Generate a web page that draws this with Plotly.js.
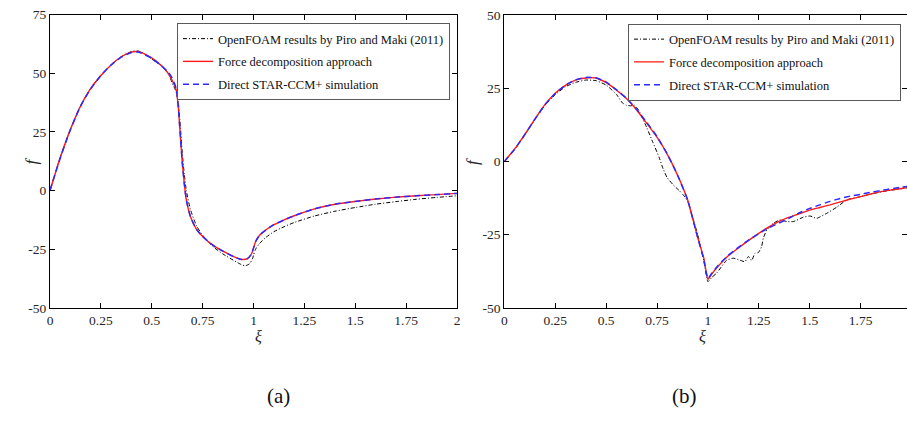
<!DOCTYPE html>
<html>
<head>
<meta charset="utf-8">
<script src="https://cdn.plot.ly/plotly-3.0.1.min.js"></script>
<style>
html,body{margin:0;padding:0;overflow:hidden;background:#fff;}
#chart{width:907px;height:427px;}
</style>
</head>
<body>
<div id="chart"></div>
<script>
// ---------- Panel (a) ----------
const aXiBlack = [0,0.05,0.1,0.15,0.2,0.25,0.3,0.35,0.4,0.43,0.45,0.5,0.55,0.58,0.6,0.62,0.63,0.64,0.65,0.66,0.67,0.69,0.72,0.75,0.8,0.85,0.9,0.94,0.96,0.98,0.995,1.0,1.01,1.03,1.06,1.1,1.15,1.2,1.3,1.4,1.5,1.6,1.7,1.8,1.9,2.0];
const aFBlack  = [0,14,26,36,43.5,49,53.5,57,59.2,59.5,59,56,53,50,46,42,38,28,16,7,0,-8,-15,-19,-23.8,-27,-29.6,-31.5,-32,-31.2,-29,-27.5,-25,-22.5,-20,-17.5,-15.4,-13.6,-10.8,-8.8,-7.2,-5.8,-4.7,-3.7,-2.9,-2.2];

const aXiRed = [0,0.05,0.1,0.15,0.2,0.25,0.3,0.35,0.4,0.43,0.45,0.5,0.55,0.58,0.6,0.62,0.63,0.64,0.65,0.66,0.67,0.69,0.72,0.75,0.8,0.85,0.9,0.94,0.97,0.99,1.0,1.01,1.03,1.06,1.1,1.15,1.2,1.3,1.4,1.5,1.6,1.7,1.8,1.9,2.0];
const aFRed  = [0,14,26,36,43.5,49,53.5,57,59,59.2,58.8,56.5,53,50,47,43,36,24,12,3,-4,-11,-16.5,-19.5,-23.2,-25.8,-28,-29.3,-29,-27,-24.5,-21.8,-19,-16.8,-14.5,-12.5,-10.7,-7.8,-5.8,-4.6,-3.6,-2.8,-2.2,-1.7,-1.2];

const aXiBlue = [0,0.05,0.1,0.15,0.2,0.25,0.3,0.35,0.4,0.43,0.45,0.5,0.55,0.58,0.6,0.62,0.63,0.64,0.65,0.66,0.67,0.69,0.72,0.75,0.8,0.85,0.9,0.94,0.97,0.99,1.0,1.01,1.03,1.06,1.1,1.15,1.2,1.3,1.4,1.5,1.6,1.7,1.8,1.9,2.0];
const aFBlue  = [0,13.8,25.8,36,43.3,49,53.5,56.8,58.8,59,58.5,56.3,53,50.5,48,43.5,36,24,12,3,-4,-11,-16.5,-19.5,-23.2,-25.8,-28,-29.3,-29,-27,-24.5,-21.8,-19,-16.8,-14.5,-12.5,-10.7,-7.8,-5.8,-4.6,-3.6,-2.8,-2.2,-1.7,-1.2];

// ---------- Panel (b) ----------
const bXiBlack = [0,0.05,0.1,0.15,0.2,0.25,0.3,0.35,0.4,0.45,0.5,0.55,0.58,0.6,0.62,0.64,0.66,0.7,0.73,0.76,0.78,0.8,0.83,0.86,0.88,0.9,0.95,0.98,1.0,1.02,1.043,1.092,1.125,1.158,1.182,1.199,1.215,1.231,1.248,1.264,1.272,1.289,1.321,1.354,1.387,1.42,1.469,1.502,1.534,1.583,1.633,1.682,1.75,1.8,1.85,1.9,1.95,2.0];
const bFBlack  = [0,4,9,14.3,19.2,22.8,25.5,27,27.8,27.6,26.1,23,20,19.2,19,19.2,17.5,11.5,6.5,1.5,-2.5,-5.5,-8,-10,-11.5,-13.5,-25,-34,-41,-39.5,-38.1,-33.7,-33,-33.7,-34.2,-32.4,-33.8,-31.3,-31.1,-29,-26.2,-23.4,-21.1,-19.9,-20.5,-20.5,-19,-18.6,-19.4,-17.7,-15.6,-13.1,-12,-11.1,-10.4,-9.8,-9.3,-8.8];

const bXiRed = [0,0.05,0.1,0.15,0.2,0.25,0.3,0.35,0.4,0.45,0.5,0.55,0.6,0.65,0.7,0.75,0.8,0.85,0.9,0.95,0.98,1.0,1.02,1.05,1.1,1.15,1.2,1.25,1.3,1.35,1.4,1.45,1.5,1.55,1.6,1.65,1.7,1.75,1.8,1.85,1.9,1.95,2.0];
const bFRed  = [0,4.2,9.2,14.5,19.5,23.3,26,27.8,28.5,28.5,27,24.4,21.5,17.6,13,8.3,2.5,-4.5,-13,-26,-33,-40.2,-38.3,-35.8,-32.2,-29.5,-26.9,-24.5,-22.3,-20.4,-19,-17.8,-16.6,-15.7,-14.8,-13.8,-12.8,-12,-11.1,-10.3,-9.7,-9.2,-8.7];

const bXiBlue = [0,0.05,0.1,0.15,0.2,0.25,0.3,0.35,0.4,0.45,0.5,0.55,0.6,0.65,0.7,0.75,0.8,0.85,0.9,0.95,0.98,1.0,1.02,1.05,1.1,1.15,1.2,1.25,1.3,1.35,1.4,1.45,1.5,1.55,1.6,1.65,1.7,1.75,1.8,1.85,1.9,1.95,2.0];
const bFBlue  = [0,4.1,9.1,14.4,19.4,23.2,26,27.9,28.7,28.6,27.1,24.5,21.6,17.8,13.3,8.5,2.6,-4.5,-13,-26,-33.5,-40,-38,-35.5,-32,-29.3,-26.8,-24.6,-22.6,-21,-19.3,-17.5,-16,-14.8,-13.6,-12.6,-11.8,-11.2,-10.5,-9.9,-9.3,-8.8,-8.3];

// ---------- Text ----------
const seriesNames = ["OpenFOAM results by Piro and Maki (2011)", "Force decomposition approach", "Direct STAR-CCM+ simulation"];
const xTickVals = [0,0.25,0.5,0.75,1,1.25,1.5,1.75,2];
const xTickText = ["0","0.25","0.5","0.75","1","1.25","1.5","1.75","2"];
const aYTickVals = [-50,-25,0,25,50,75];
const aYTickText = ["-50","-25","0","25","50","75"];
const bYTickVals = [-50,-25,0,25,50];
const bYTickText = ["-50","-25","0","25","50"];
const panelLabels = ["(a)","(b)"];

const W = 907, H = 427;
const px = v => v / W;
const py = v => (H - v) / H;
// panel (b) is cut by the right edge of the picture: its xi range ends where the picture ends
const bPxPerXi = 203.6, bLeft = 504.3;
const bXiMax = (W - bLeft) / bPxPerXi;

const serif = "Liberation Serif";
const blackLine = {color:'#000000', width:1, dash:'4px,2px,1px,2px'};
const redLine   = {color:'#ff1a1a', width:1.4};
const blueLine  = {color:'#2a2aff', width:1.5, dash:'6px,4px'};

const traces = [
  {x:aXiBlack, y:aFBlack, name:seriesNames[0], mode:'lines', line:Object.assign({shape:'spline',smoothing:0.6},blackLine), xaxis:'x', yaxis:'y', legend:'legend', legendgroup:'a1'},
  {x:aXiRed, y:aFRed, name:seriesNames[1], mode:'lines', line:Object.assign({shape:'spline',smoothing:0.6},redLine), xaxis:'x', yaxis:'y', legend:'legend', legendgroup:'a2'},
  {x:aXiBlue, y:aFBlue, name:seriesNames[2], mode:'lines', line:Object.assign({shape:'spline',smoothing:0.6},blueLine), xaxis:'x', yaxis:'y', legend:'legend', legendgroup:'a3'},
  {x:bXiBlack, y:bFBlack, name:seriesNames[0], mode:'lines', line:Object.assign({shape:'spline',smoothing:0.4},blackLine), xaxis:'x2', yaxis:'y2', legend:'legend2', legendgroup:'b1'},
  {x:bXiRed, y:bFRed, name:seriesNames[1], mode:'lines', line:Object.assign({shape:'spline',smoothing:0.4},redLine), xaxis:'x2', yaxis:'y2', legend:'legend2', legendgroup:'b2'},
  {x:bXiBlue, y:bFBlue, name:seriesNames[2], mode:'lines', line:Object.assign({shape:'spline',smoothing:0.4},blueLine), xaxis:'x2', yaxis:'y2', legend:'legend2', legendgroup:'b3'}
];

const tickFont = {family: serif, size: 13.5, color:'#262626'};
function xAxis(domain, anchor, range){
  return {domain:domain, anchor:anchor, range:range, tickvals:xTickVals, ticktext:xTickText,
    ticks:'inside', ticklen:5, tickwidth:1, tickcolor:'#000', showline:true, linecolor:'#000', linewidth:1,
    mirror:'ticks', showgrid:false, zeroline:false, tickfont:tickFont, fixedrange:true, automargin:false};
}
function yAxis(domain, anchor, range, tv, tt){
  return {domain:domain, anchor:anchor, range:range, tickvals:tv, ticktext:tt,
    ticks:'inside', ticklen:5, tickwidth:1, tickcolor:'#000', showline:true, linecolor:'#000', linewidth:1,
    mirror:'ticks', showgrid:false, zeroline:false, tickfont:tickFont, fixedrange:true, automargin:false};
}
function legendBox(left, top){
  return {x:px(left), y:py(top), xanchor:'left', yanchor:'top', bgcolor:'#ffffff', bordercolor:'#5a5a5a', borderwidth:1,
    font:{family:serif, size:12.5, color:'#111'}, traceorder:'grouped', tracegroupgap:3.5};
}

const layout = {
  width:W, height:H, margin:{l:0,r:0,t:0,b:0}, paper_bgcolor:'#fff', plot_bgcolor:'#fff', showlegend:true,
  xaxis: xAxis([px(50), px(457)], 'y', [0,2]),
  yaxis: yAxis([py(308), py(14.5)], 'x', [-50,75], aYTickVals, aYTickText),
  xaxis2: xAxis([px(bLeft), 1], 'y2', [0, bXiMax]),
  yaxis2: yAxis([py(308), py(15)], 'x2', [-50,50], bYTickVals, bYTickText),
  legend: legendBox(177, 23),
  legend2: legendBox(628, 23.5),
  annotations: [
    {text:'<i>f</i>', xref:'paper', yref:'paper', x:px(19), y:py(161), textangle:-90, showarrow:false, font:{family:serif,size:17,color:'#262626'}},
    {text:'<i>f</i>', xref:'paper', yref:'paper', x:px(472), y:py(162), textangle:-90, showarrow:false, font:{family:serif,size:17,color:'#262626'}},
    {text:'<i>ξ</i>', xref:'paper', yref:'paper', x:px(253), y:py(347), showarrow:false, font:{family:serif,size:16,color:'#262626'}},
    {text:'<i>ξ</i>', xref:'paper', yref:'paper', x:px(708), y:py(347), showarrow:false, font:{family:serif,size:16,color:'#262626'}},
    {text:panelLabels[0], xref:'paper', yref:'paper', x:px(265), y:py(410), showarrow:false, font:{family:serif,size:21,color:'#111'}},
    {text:panelLabels[1], xref:'paper', yref:'paper', x:px(699), y:py(410), showarrow:false, font:{family:serif,size:21,color:'#111'}}
  ]
};

Plotly.newPlot('chart', traces, layout, {displayModeBar:false, staticPlot:true});
</script>
</body>
</html>
